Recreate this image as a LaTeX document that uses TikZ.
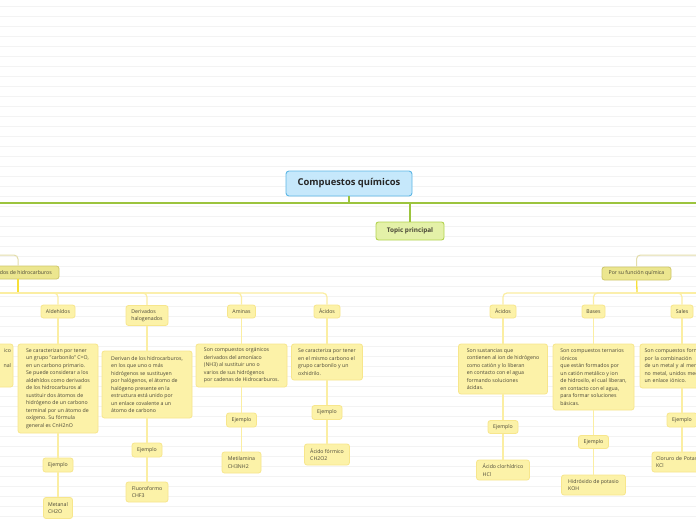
\documentclass[tikz,border=0pt]{standalone}
\usepackage{fontspec}
\setmainfont{Open Sans}
\definecolor{txtc}{HTML}{4A4738}
\definecolor{rulec}{HTML}{F3F3F3}
\definecolor{cenf}{HTML}{C6E8FB}
\definecolor{cend}{HTML}{5DB7E6}
\definecolor{topf}{HTML}{E4F1A8}
\definecolor{topd}{HTML}{B3D350}
\definecolor{catf}{HTML}{ECE68F}
\definecolor{catd}{HTML}{CFC76C}
\definecolor{subf}{HTML}{FCF2A8}
\definecolor{subd}{HTML}{F7E68C}
\definecolor{greenc}{HTML}{9CC43E}
\definecolor{khakic}{HTML}{E3DDAA}
\definecolor{hotc}{HTML}{F7E03A}
\definecolor{busc}{HTML}{FBEEA2}

\begin{document}
\begin{tikzpicture}[x=1pt,y=-1pt,
    txt/.style={text=txtc, font=\fontsize{5.2}{7.5}\selectfont},
    catbox/.style={txt, draw=catd, fill=catf, rounded corners=2.5pt, line width=0.8pt, inner sep=0pt},
    subbox/.style={txt, draw=subd, fill=subf, rounded corners=2.5pt, line width=0.8pt, inner sep=0pt, align=left},
    gline/.style={draw=greenc, line width=1.3pt},
    kline/.style={draw=khakic, line width=1pt, rounded corners=4pt},
    hot/.style={draw=hotc, line width=1.3pt},
    bus/.style={draw=busc, line width=1.2pt, rounded corners=4pt}]
  \useasboundingbox (0,0) rectangle (696,520);
  \clip (0,0) rectangle (696,520);
  \fill[white] (0,0) rectangle (696,520);
  \foreach \y in {6,16,...,516}
    \draw[rulec, line width=0.8pt] (0,\y) -- (696,\y);

  % centre
  \node[draw=cend, fill=cenf, rounded corners=3pt, line width=0.9pt, minimum width=126pt, minimum height=25pt,
        font=\fontsize{9.4}{11}\selectfont\bfseries, text=black!85] (cen) at (349,183.5) {Compuestos químicos};
  \node[draw=topd, fill=topf, rounded corners=2.5pt, line width=0.9pt, minimum width=68pt, minimum height=18pt,
        font=\fontsize{6.4}{8}\selectfont\bfseries, text=txtc] (top) at (410,231) {Topic principal};
  \coordinate (gl) at (-10,203);
  \coordinate (gr) at (710,203);
  \draw[gline] (gl) -- (gr);
  \draw[gline] (cen) -- (cen |- gl);
  \draw[gline] (top) -- (top |- gl);

  % categorias
  \node[catbox, minimum width=82pt, minimum height=13pt] (hid) at (18,272.5) {Derivados de hidrocarburos};
  \node[catbox, minimum width=69pt, minimum height=13pt] (fun) at (636.5,273.5) {Por su función química};
  \coordinate (tl) at (-40,255);
  \coordinate (tr) at (740,255);
  \draw[kline] (hid) |- (tl);
  \draw[kline] (fun) |- (tr);

  % hijos
  \node[subbox, minimum height=43pt, text width=69pt, align=right, inner xsep=2pt] (alc) at (-23.5,365.5) {ico\\\mbox{}\\nal\\\mbox{}\\\mbox{}};
  \node[subbox, minimum width=34pt, minimum height=13pt] (ald) at (58,311.5) {Aldehídos};
  \node[subbox, minimum width=42pt, minimum height=20pt] (der) at (147,315.5) {Derivados\\halogenados};
  \node[subbox, minimum width=28pt, minimum height=13pt] (ami) at (241.5,311.5) {Aminas};
  \node[subbox, minimum width=26pt, minimum height=13pt] (aci) at (327,311.5) {Ácidos};
  \node[subbox, minimum width=26pt, minimum height=13pt] (acb) at (503,311.5) {Ácidos};
  \node[subbox, minimum width=23pt, minimum height=13pt] (bas) at (593.5,311.5) {Bases};
  \node[subbox, minimum width=22pt, minimum height=13pt] (sal) at (682,311.5) {Sales};

  \coordinate (jl) at (18,293);
  \coordinate (jr) at (637,293);
  \coordinate (bl) at (-40,293);
  \coordinate (br) at (740,293);
  \draw[hot] (hid) -- (jl);
  \draw[hot] (fun) -- (jr);
  \draw[bus] (jl) -- (bl);
  \draw[bus] (jl) -| (ald);
  \draw[bus] (jl) -| (der);
  \draw[bus] (jl) -| (ami);
  \draw[bus] (jl) -| (aci);
  \draw[bus] (jr) -| (acb);
  \draw[bus] (jr) -| (bas);
  \draw[bus] (jr) -| (sal);
  \draw[bus] (jr) -- (br);

  % descripciones
  \node[subbox, minimum width=80pt, minimum height=89pt] (aldd) at (58,388.5)
    {Se caracterizan por tener\\ un grupo "carbonilo" C=O,\\ en un carbono primario.\\Se puede considerar a los\\ aldehídos como derivados\\ de los hidrocarburos al\\ sustituir dos átomos de\\ hidrógeno de un carbono\\terminal por un átomo de\\ oxígeno. Su fórmula\\general es CnH2nO};
  \node[subbox, minimum width=90pt, minimum height=67pt] (derd) at (147,384.5)
    {Derivan de los hidrocarburos,\\en los que uno o más\\hidrógenos se sustituyen\\por halógenos, el átomo de\\ halógeno presente en la\\ estructura está unido por\\un enlace covalente a un\\átomo de carbono};
  \node[subbox, minimum width=91pt, minimum height=43pt] (amid) at (241.5,365.5)
    {Son compuestos orgánicos\\derivados del amoníaco\\(NH3) al sustituir uno o\\varios de sus hidrógenos\\por cadenas de Hidrocarburos.};
  \node[subbox, minimum width=71pt, minimum height=36pt] (acid) at (327,362)
    {Se caracteriza por tener\\en el mismo carbono el\\grupo carbonilo y un\\oxhidrilo.};
  \node[subbox, minimum width=89pt, minimum height=50pt] (acbd) at (503,369)
    {Son sustancias que\\contienen al ion de hidrógeno\\como catión y lo liberan\\en contacto con el agua\\ formando soluciones\\ácidas.};
  \node[subbox, minimum width=81pt, minimum height=66pt] (basd) at (593.5,377)
    {Son compuestos ternarios\\ iónicos\\que están formados por\\un catión metálico y ion\\de hidroxilo, el cual liberan,\\en contacto con el agua,\\ para formar soluciones\\básicas.};
  \node[subbox, minimum width=84pt, minimum height=44pt, text width=75pt] (sald) at (682,366)
    {Son compuestos formados\\por la combinación\\de un metal y al menos un\\no metal, unidos mediante\\un enlace iónico.};

  % ejemplos
  \node[subbox, minimum width=30pt, minimum height=14pt] (aldj) at (58,465) {Ejemplo};
  \node[subbox, minimum width=30pt, minimum height=14pt] (derj) at (147,450) {Ejemplo};
  \node[subbox, minimum width=30pt, minimum height=14pt] (amij) at (241.5,420) {Ejemplo};
  \node[subbox, minimum width=30pt, minimum height=14pt] (acij) at (327,412.5) {Ejemplo};
  \node[subbox, minimum width=30pt, minimum height=13pt] (acbj) at (503,427) {Ejemplo};
  \node[subbox, minimum width=30pt, minimum height=13pt] (basj) at (593.5,442) {Ejemplo};
  \node[subbox, minimum width=30pt, minimum height=14pt] (salj) at (682,420) {Ejemplo};

  \node[subbox, minimum width=29pt, minimum height=21pt] (aldx) at (58,508) {Metanal\\CH2O};
  \node[subbox, minimum width=42pt, minimum height=20pt] (derx) at (147,492) {Fluoroformo\\CHF3};
  \node[subbox, minimum width=39pt, minimum height=21pt] (amix) at (241.5,462.5) {Metilamina\\CH3NH2};
  \node[subbox, minimum width=45pt, minimum height=21pt] (acix) at (327,454.5) {Ácido fórmico\\CH2O2};
  \node[subbox, minimum width=53pt, minimum height=20pt] (acbx) at (503,470) {Ácido clorhídrico\\HCl};
  \node[subbox, minimum width=64pt, minimum height=20pt] (basx) at (593.5,485) {Hidróxido de potasio\\KOH};
  \node[subbox, minimum width=60pt, minimum height=20pt, text width=52pt] (salx) at (682,462) {Cloruro de Potasio\\KCl};

  \draw[bus] (ald) -- (aldd) -- (aldj) -- (aldx);
  \draw[bus] (der) -- (derd) -- (derj) -- (derx);
  \draw[bus] (ami) -- (amid) -- (amij) -- (amix);
  \draw[bus] (aci) -- (acid) -- (acij) -- (acix);
  \draw[bus] (acb) -- (acbd) -- (acbj) -- (acbx);
  \draw[bus] (bas) -- (basd) -- (basj) -- (basx);
  \draw[bus] (sal) -- (sald) -- (salj) -- (salx);
\end{tikzpicture}
\end{document}
